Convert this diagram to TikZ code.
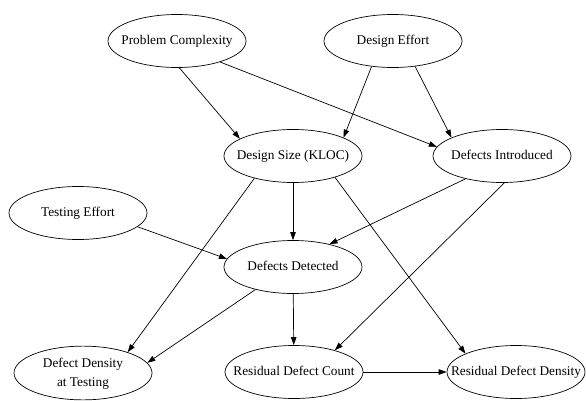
\documentclass[tikz,border=0pt]{standalone}
\usepackage{fontspec}
\setmainfont{Liberation Serif}
\usetikzlibrary{shapes.geometric, arrows.meta}
\newcommand{\varlabel}[1]{\makebox[0pt]{\begin{tabular}{@{}c@{}}#1\end{tabular}}}

\begin{document}
\begin{tikzpicture}[x=1pt, y=-1pt, line width=0.7pt,
        var/.style={draw, ellipse, inner sep=0pt, minimum width=138pt, minimum height=53pt,
            font=\fontsize{13.3pt}{19pt}\selectfont},
        >={Triangle[length=8pt, width=5.5pt]}]
    \useasboundingbox (0, 0) rectangle (586, 401);

    \node[var] (pc) at (177, 41) {\varlabel{Problem Complexity}};
    \node[var] (de) at (393, 41) {\varlabel{Design Effort}};

    \node[var] (ds) at (293, 156) {\varlabel{Design Size (KLOC)}};
    \node[var] (di) at (502, 156) {\varlabel{Defects Introduced}};

    \node[var] (te) at (78, 213) {\varlabel{Testing Effort}};
    \node[var] (dd) at (293, 267) {\varlabel{Defects Detected}};

    \node[var] (ddt) at (83, 373) {\varlabel{Defect Density\\at Testing}};
    \node[var] (rdc) at (294, 372) {\varlabel{Residual Defect Count}};
    \node[var] (rdd) at (516, 372) {\varlabel{Residual Defect Density}};

    \draw[->] (pc.-85) -- (ds.162);
    \draw[->] (pc.-26) -- (di.172);
    \draw[->] (de.-130) -- (ds.20);
    \draw[->] (de.-49) -- (di.160);

    \draw[->] (ds) -- (dd);
    \draw[->] (ds.-150) -- (ddt.25);
    \draw[->] (ds.-27) -- (rdd.160);
    \draw[->] (di.-148) -- (dd.32);
    \draw[->] (di.-85) -- (rdc.28);
    \draw[->] (te.-13) -- (dd.173);

    \draw[->] (dd.-149) -- (ddt.9);
    \draw[->] (dd) -- (rdc);
    \draw[->] (rdc) -- (rdd);
\end{tikzpicture}
\end{document}
